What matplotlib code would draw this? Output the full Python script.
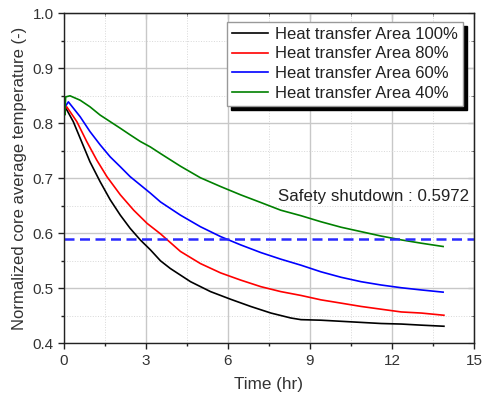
import matplotlib
matplotlib.use("Agg")
import matplotlib.pyplot as plt
from matplotlib.ticker import MultipleLocator

plt.rcParams['font.family'] = ['Liberation Sans', 'DejaVu Sans']

# Data
t_100 = [0.04, 0.34, 0.59, 0.95, 1.32, 1.69, 2.06, 2.42, 2.79, 3.16, 3.53, 3.89, 4.63,
         5.36, 6.1, 6.83, 7.57, 8.3, 8.67, 9.4, 10.14, 10.87, 11.6, 12.34, 13.07, 13.9]
v_100 = [0.830, 0.803, 0.773, 0.730, 0.694, 0.661, 0.633, 0.609, 0.588, 0.570, 0.550, 0.536, 0.512,
         0.494, 0.480, 0.467, 0.455, 0.446, 0.443, 0.442, 0.440, 0.438, 0.436, 0.435, 0.433, 0.431]

t_80 = [0.04, 0.1, 0.47, 0.83, 1.2, 1.57, 2.06, 2.55, 3.04, 3.53, 4.26, 4.99, 5.73, 6.46,
        7.2, 7.93, 8.67, 9.4, 10.14, 10.87, 11.6, 12.34, 13.07, 13.9]
v_80 = [0.826, 0.830, 0.803, 0.767, 0.733, 0.703, 0.670, 0.642, 0.618, 0.599, 0.567, 0.545, 0.528, 0.515,
        0.503, 0.494, 0.487, 0.479, 0.473, 0.467, 0.462, 0.457, 0.455, 0.451]

t_60 = [0.04, 0.16, 0.59, 0.95, 1.32, 1.69, 2.06, 2.42, 2.79, 3.16, 3.53, 4.26, 4.99, 5.73,
        6.46, 7.2, 7.93, 8.67, 9.4, 10.14, 10.87, 11.6, 12.34, 13.07, 13.87]
v_60 = [0.830, 0.839, 0.812, 0.785, 0.761, 0.739, 0.721, 0.703, 0.688, 0.673, 0.657, 0.633, 0.612, 0.594,
        0.579, 0.565, 0.553, 0.542, 0.530, 0.520, 0.512, 0.506, 0.501, 0.497, 0.493]

t_40 = [0.0, 0.03, 0.06, 0.22, 0.59, 0.95, 1.32, 1.69, 2.06, 2.42, 2.79, 3.16, 3.53, 4.26, 4.99,
        5.73, 6.46, 7.2, 7.93, 8.67, 9.4, 10.14, 10.87, 11.6, 12.34, 13.07, 13.87]
v_40 = [0.835, 0.815, 0.848, 0.850, 0.842, 0.830, 0.815, 0.803, 0.791, 0.779, 0.767, 0.757, 0.745, 0.722, 0.701,
        0.685, 0.670, 0.656, 0.642, 0.632, 0.621, 0.611, 0.603, 0.595, 0.588, 0.582, 0.576]

series_labels = ["Heat transfer Area 100%", "Heat transfer Area 80%",
                 "Heat transfer Area 60%", "Heat transfer Area 40%"]
series_colors = ["black", "red", "blue", "green"]
safety_level = 0.59
safety_text = "Safety shutdown : 0.5972"

fig = plt.figure(figsize=(4.87, 3.99), dpi=100)
ax = fig.add_axes([64/487, 1-343.3/399, (474-64)/487, (343.3-13.3)/399])

for (t, v), lab, c in zip([(t_100, v_100), (t_80, v_80), (t_60, v_60), (t_40, v_40)],
                          series_labels, series_colors):
    ax.plot(t, v, color=c, lw=1.2, label=lab)

ax.axhline(safety_level, color='#2a2aff', lw=1.8, dashes=(4, 2.2))
ax.text(278/487, 1-197/399, safety_text, transform=fig.transFigure,
        fontsize=12.2, color='#222222', va='center', ha='left')

ax.set_xlim(0, 15)
ax.set_ylim(0.4, 1.0)
ax.xaxis.set_major_locator(MultipleLocator(3))
ax.xaxis.set_minor_locator(MultipleLocator(1.5))
ax.yaxis.set_major_locator(MultipleLocator(0.1))
ax.yaxis.set_minor_locator(MultipleLocator(0.05))
ax.set_yticks([0.4, 0.5, 0.6, 0.7, 0.8, 0.9, 1.0])
ax.set_yticklabels(["0.4", "0.5", "0.6", "0.7", "0.8", "0.9", "1.0"])

ax.grid(which='major', color='#c8c8c8', lw=1.0, ls='-')
ax.grid(which='minor', color='#d8d8d8', lw=0.7, ls=':')
ax.set_axisbelow(True)

ax.tick_params(which='major', direction='out', length=4, width=1, labelsize=11,
               colors='#222222', labelcolor='#333333')
ax.tick_params(which='minor', direction='out', length=2.5, width=1, colors='#222222')
for s in ax.spines.values():
    s.set_color('#222222')
    s.set_linewidth(1.0)

secx = ax.secondary_xaxis('top')
secx.xaxis.set_major_locator(MultipleLocator(3))
secx.xaxis.set_minor_locator(MultipleLocator(1.5))
secx.tick_params(which='both', direction='in', labeltop=False, colors='#222222')
secx.tick_params(which='major', length=4)
secx.tick_params(which='minor', length=2.5)
secy = ax.secondary_yaxis('right')
secy.yaxis.set_major_locator(MultipleLocator(0.1))
secy.yaxis.set_minor_locator(MultipleLocator(0.05))
secy.tick_params(which='both', direction='in', labelright=False, colors='#222222')
secy.tick_params(which='major', length=4)
secy.tick_params(which='minor', length=2.5)

ax.set_xlabel("Time (hr)", fontsize=12.3, color='#333333', labelpad=7)
ax.set_ylabel("Normalized core average temperature (-)", fontsize=12, color='#333333', labelpad=4)

leg = ax.legend(loc='upper right', bbox_to_anchor=(463/487, 1-22/399),
                bbox_transform=fig.transFigure, fontsize=12, frameon=True,
                fancybox=False, framealpha=1, edgecolor='#999999',
                shadow={'color': 'black', 'alpha': 1, 'ox': 3, 'oy': -3},
                handlelength=2.2, handletextpad=0.4, borderpad=0.3, labelspacing=0.27,
                borderaxespad=0)
for txt in leg.get_texts():
    txt.set_color('#222222')

fig.savefig("out.png", dpi=100)
